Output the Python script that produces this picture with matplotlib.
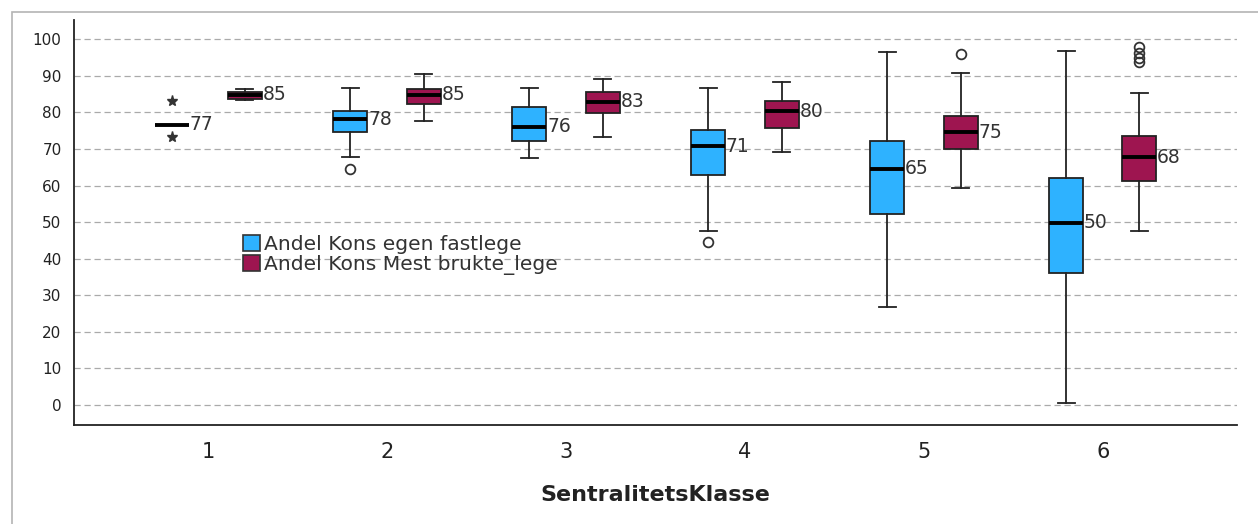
import numpy as np
import matplotlib
matplotlib.use("Agg")
import matplotlib.pyplot as plt
from matplotlib.patches import Patch, Rectangle

plt.rcParams['font.family'] = ['DejaVu Sans']

# data
groups = [1, 2, 3, 4, 5, 6]

blue_med = [76.7, 78.1, 76.1, 70.8, 64.6, 49.8]
blue_q1 = [76.7, 74.6, 72.2, 62.9, 52.2, 36.2]
blue_q3 = [76.7, 80.4, 81.5, 75.3, 72.1, 62.1]
blue_lo = [76.7, 67.9, 67.6, 47.6, 26.9, 0.4]
blue_hi = [76.7, 86.7, 86.6, 86.7, 96.5, 96.9]
blue_out = [[], [64.6], [], [44.7], [], []]
blue_ext = [[83.1, 73.2], [], [], [], [], []]

red_med = [84.8, 84.9, 83.0, 80.3, 74.6, 67.8]
red_q1 = [83.8, 82.4, 79.9, 75.8, 70.1, 61.3]
red_q3 = [85.7, 86.5, 85.5, 83.1, 78.9, 73.7]
red_lo = [83.3, 77.7, 73.3, 69.2, 59.4, 47.7]
red_hi = [86.4, 90.6, 89.2, 88.3, 90.9, 85.3]
red_out = [[], [], [], [], [96.1], [97.8, 96.4, 95.0, 93.8]]
red_ext = [[], [], [], [], [], []]

labels = ['Andel Kons egen fastlege', 'Andel Kons Mest brukte_lege']
colors = ['#2eb2ff', '#9e1550']

fig = plt.figure(figsize=(12.58, 5.24), dpi=100)
ax = fig.add_axes([74/1258, 1-425/524, (1237-74)/1258, (425-20)/524])

# outer grey frame
fig.patches.append(Rectangle((12/1258, -0.1), 1.2, 1-12/524+0.1, transform=fig.transFigure,
                             fill=False, edgecolor='#b4b4b4', lw=1.2))

off = 0.205
w = 0.19
series = [
    (blue_med, blue_q1, blue_q3, blue_lo, blue_hi, blue_out, blue_ext, -off, colors[0]),
    (red_med, red_q1, red_q3, red_lo, red_hi, red_out, red_ext, off, colors[1]),
]
for med, q1, q3, lo, hi, out, ext, dx, col in series:
    stats = []
    for i in range(len(groups)):
        stats.append(dict(med=med[i], q1=q1[i], q3=q3[i], whislo=lo[i], whishi=hi[i], fliers=out[i]))
    pos = [g + dx for g in groups]
    ax.bxp(stats, positions=pos, widths=w, capwidths=w*0.5, patch_artist=True,
           boxprops=dict(facecolor=col, edgecolor='#222222', lw=1.3),
           medianprops=dict(color='black', lw=2.8),
           whiskerprops=dict(color='#222222', lw=1.3),
           capprops=dict(color='#222222', lw=1.3),
           flierprops=dict(marker='o', markerfacecolor='none', markeredgecolor='#333333',
                           markersize=7, markeredgewidth=1.3),
           zorder=3)
    for i in range(len(groups)):
        if ext[i]:
            ax.plot([pos[i]]*len(ext[i]), ext[i], ls='none', marker='*', color='#333333',
                    markersize=8, zorder=3)
        ax.text(pos[i] + w/2 + 0.004, med[i], str(int(round(med[i]))), ha='left', va='center',
                fontsize=13.5, color='#333333', zorder=4)

ax.set_xlim(0.25, 6.75)
ax.set_ylim(-5.5, 105.3)
ax.set_xticks(groups)
ax.set_xticklabels([str(g) for g in groups], fontsize=15, color='#222222')
ax.set_yticks(range(0, 101, 10))
ax.tick_params(axis='y', length=0, labelsize=11, pad=9, labelcolor='#222222')
ax.tick_params(axis='x', length=0, pad=12)
ax.yaxis.grid(True, ls=(0, (5, 3)), color='#aaaaaa', lw=0.9)
ax.set_axisbelow(True)
for s in ['top', 'right']:
    ax.spines[s].set_visible(False)
for s in ['left', 'bottom']:
    ax.spines[s].set_color('#222222')
    ax.spines[s].set_linewidth(1.3)
ax.set_xlabel('SentralitetsKlasse', fontsize=16, fontweight='bold', labelpad=17, color='#222222')

handles = [Patch(facecolor=c, edgecolor='#333333', lw=1.2) for c in colors]
leg = ax.legend(handles, labels, loc='upper left', bbox_to_anchor=(0.138, 0.49), frameon=False,
                fontsize=14.6, handlelength=0.85, handleheight=0.85, handletextpad=0.2,
                labelspacing=0.05, borderaxespad=0)
for t in leg.get_texts():
    t.set_color('#333333')

fig.savefig('out.png', dpi=100)
